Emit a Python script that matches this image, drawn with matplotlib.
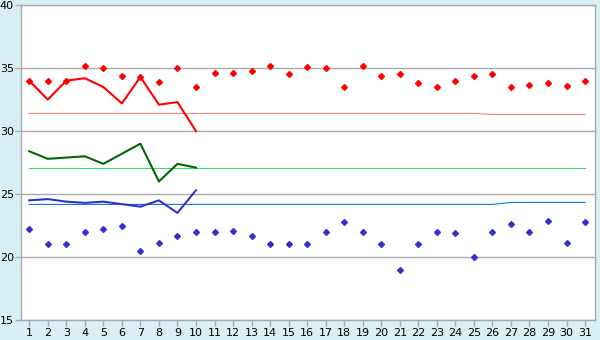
import numpy as np
import matplotlib
matplotlib.use("Agg")
import matplotlib.pyplot as plt

days = list(range(1, 32))

# daily highs / lows (markers)
high_pts = [34.0, 34.0, 34.0, 35.2, 35.0, 34.4, 34.3, 33.9, 35.0, 33.5,
            34.6, 34.6, 34.8, 35.2, 34.5, 35.1, 35.0, 33.5, 35.2, 34.4,
            34.5, 33.8, 33.5, 34.0, 34.4, 34.5, 33.5, 33.7, 33.8, 33.6, 34.0]
low_pts = [22.2, 21.0, 21.0, 22.0, 22.2, 22.5, 20.5, 21.1, 21.7, 22.0,
           22.0, 22.1, 21.7, 21.0, 21.0, 21.0, 22.0, 22.8, 22.0, 21.0,
           19.0, 21.0, 22.0, 21.9, 20.0, 22.0, 22.6, 22.0, 22.9, 21.1, 22.8]

# current month, first 10 days
cur_days = list(range(1, 11))
cur_high = [34.0, 32.5, 34.0, 34.2, 33.5, 32.2, 34.3, 32.1, 32.3, 30.0]
cur_mean = [28.4, 27.8, 27.9, 28.0, 27.4, 28.2, 29.0, 26.0, 27.4, 27.1]
cur_low = [24.5, 24.6, 24.4, 24.3, 24.4, 24.2, 24.0, 24.5, 23.5, 25.3]

# long-term averages
avg_high = [31.4] * 25 + [31.32] * 6
avg_mean = [27.1] * 31
avg_low = [24.18] * 26 + [24.34] * 5

fig = plt.figure(figsize=(6, 3.4), dpi=100, facecolor="#d9eff6")
ax = fig.add_axes([0.0345, 0.0588, 0.957, 0.926])
ax.set_facecolor("white")

ax.plot(days, avg_high, color="#ff8080", lw=0.8)
ax.plot(days, avg_mean, color="#33dd77", lw=0.8)
ax.plot(days, avg_low, color="#0077ee", lw=0.8)

ax.plot(cur_days, cur_high, color="#ff0000", lw=1.5)
ax.plot(cur_days, cur_mean, color="#006600", lw=1.5)
ax.plot(cur_days, cur_low, color="#3333cc", lw=1.5)

ax.plot(days, high_pts, ls="none", marker="D", ms=3, color="#ff0000")
ax.plot(days, low_pts, ls="none", marker="D", ms=3, color="#3333cc")

ax.set_xlim(0.54, 31.53)
ax.set_ylim(15, 40)
ax.set_xticks(days)
ax.set_yticks([15, 20, 25, 30, 35, 40])
ax.yaxis.grid(True, color="#aaaaaa", lw=1)
ax.set_axisbelow(True)
for s in ax.spines.values():
    s.set_color("#aaaaaa")
    s.set_linewidth(1)
ax.tick_params(axis="both", colors="#aaaaaa", labelcolor="black", labelsize=8,
               length=4, width=1, pad=1)
ax.tick_params(axis="x", pad=2)

fig.savefig("out.png", dpi=100, facecolor=fig.get_facecolor())
